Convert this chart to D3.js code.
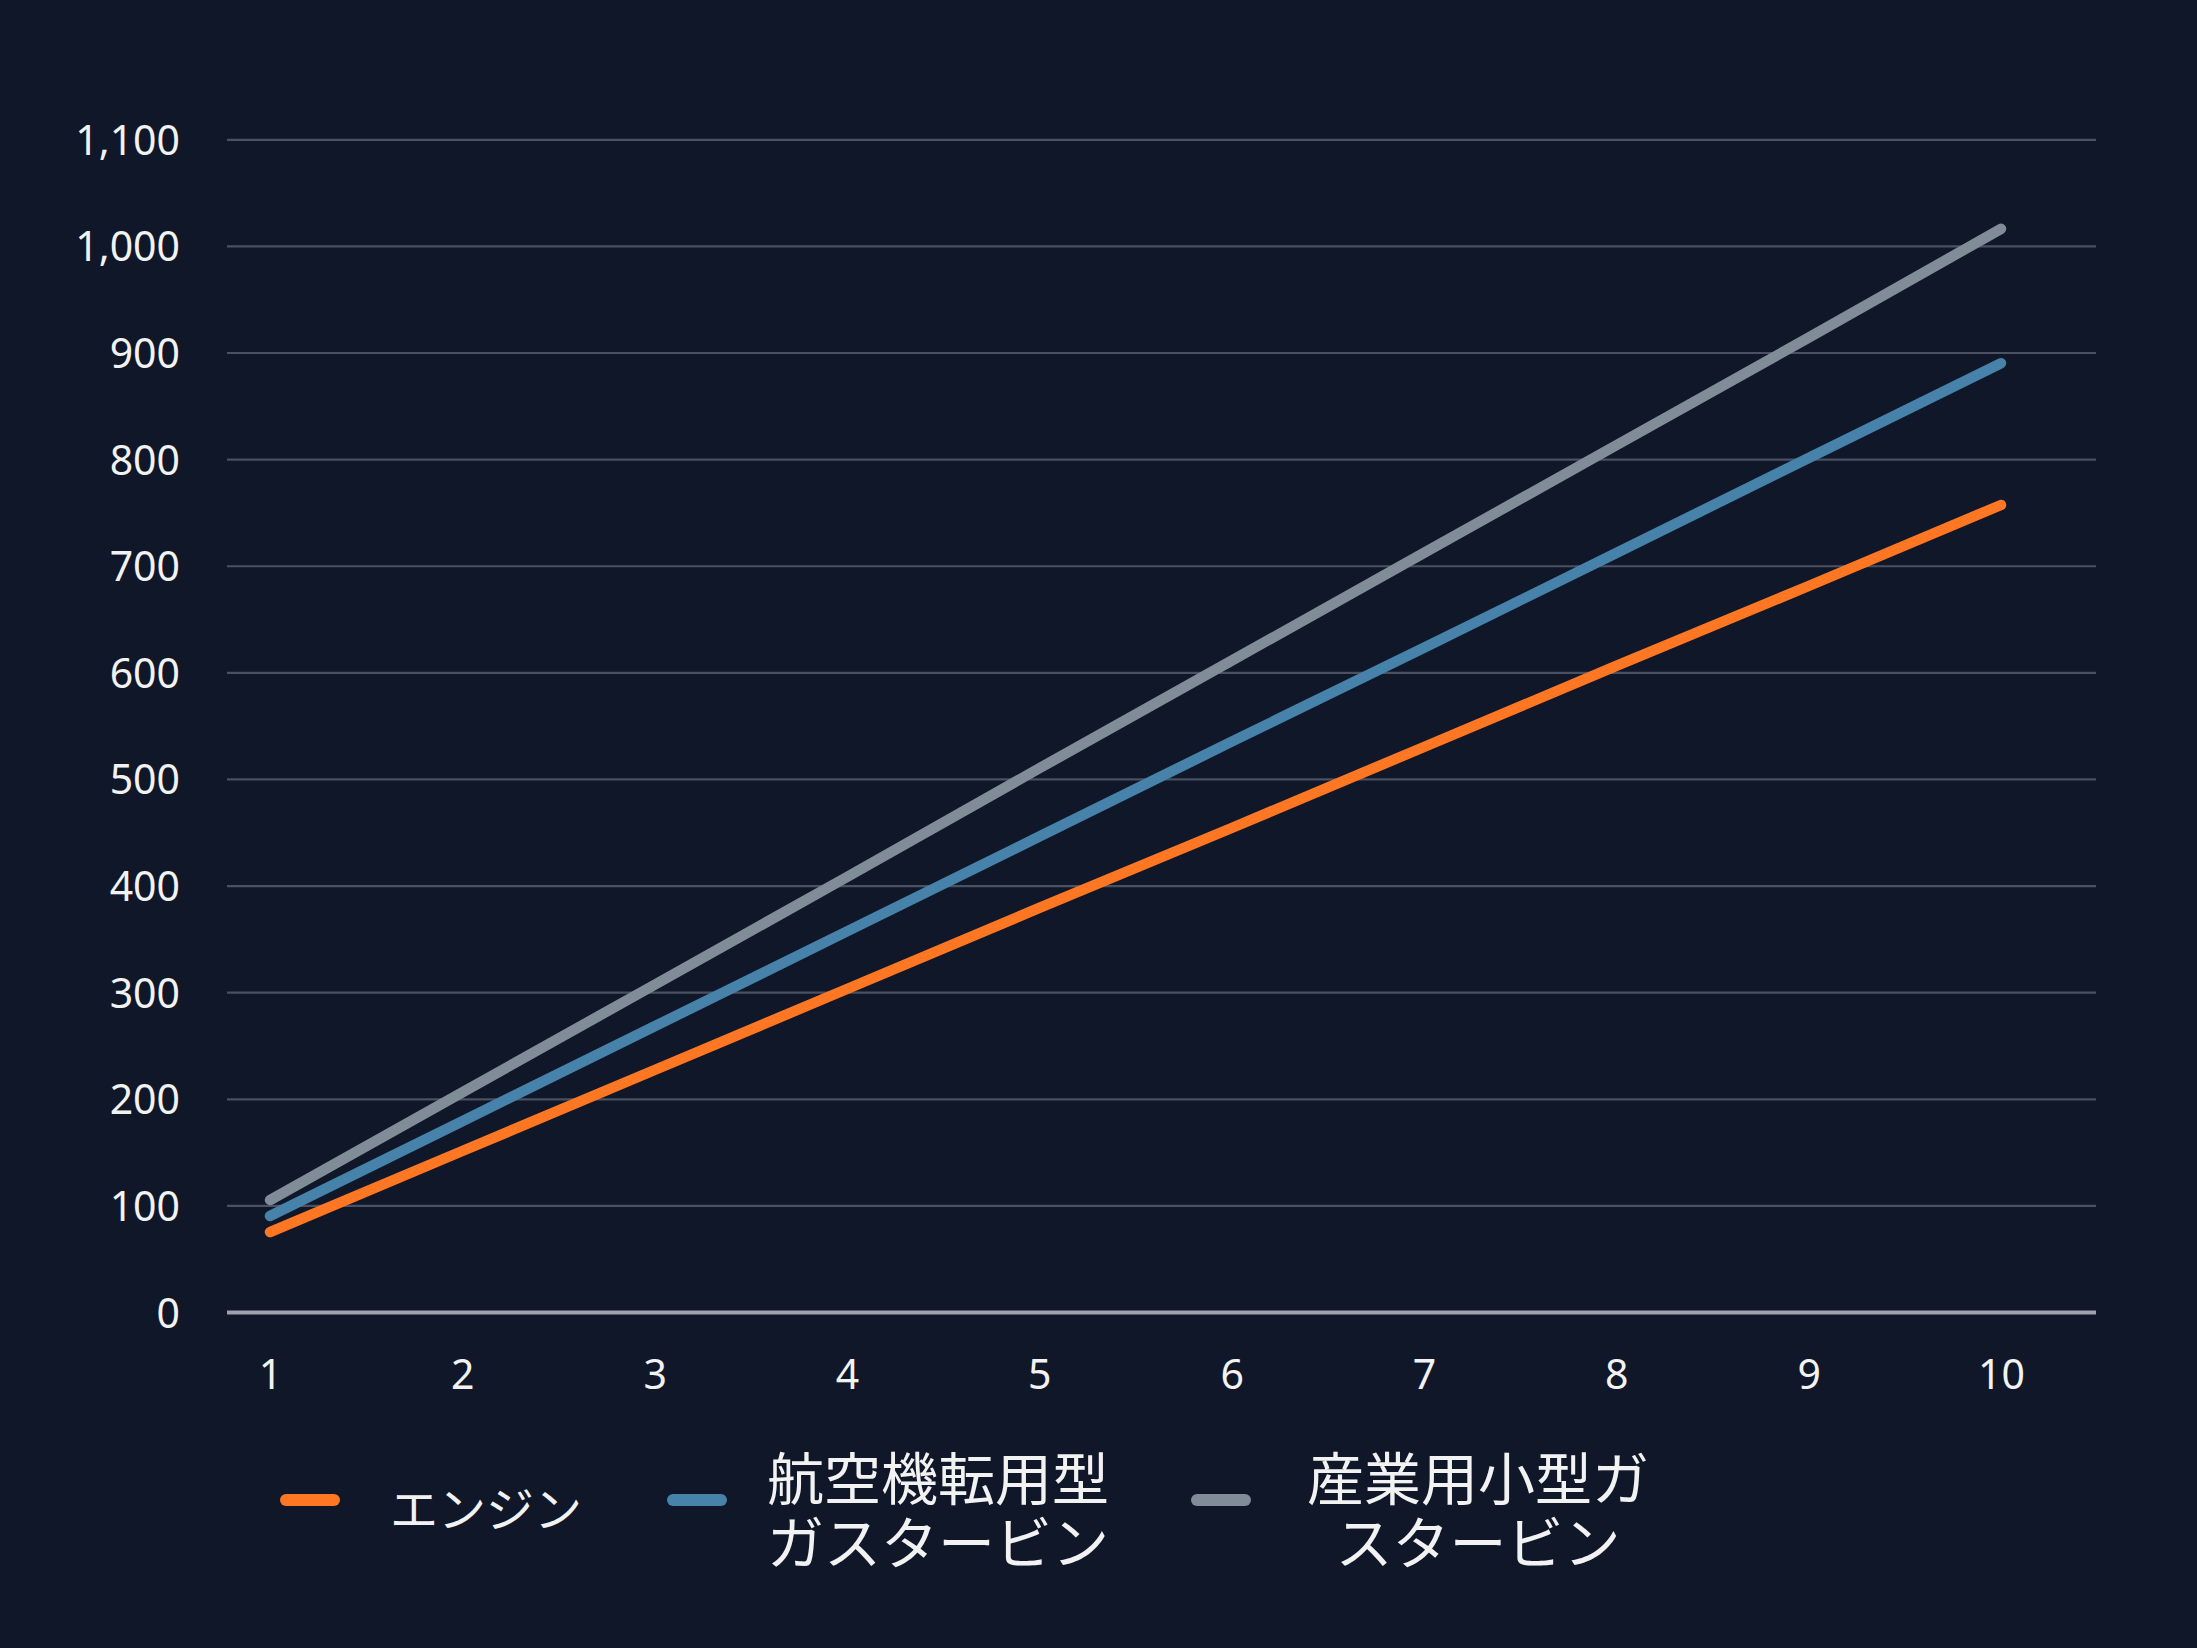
<!DOCTYPE html>
<html><head><meta charset="utf-8">
<script src="https://cdn.jsdelivr.net/npm/d3@7"></script>
<style>
html,body{margin:0;padding:0;background:#0f1729;}
svg{display:block;}
text{font-family:"Noto Sans","Noto Sans CJK JP",sans-serif;fill:#f2f2f2;}
</style></head>
<body>
<svg id="chart" width="2197" height="1648"></svg>
<script>
const categories = [1,2,3,4,5,6,7,8,9,10];
const engine = [75,151,227,303,379,454,530,606,681,757];
const aeroGT = [90,179,268,357,446,535,623,712,801,890];
const industrialGT = [105,206,307,408,510,611,712,813,914,1016];
const yTicks = [0,100,200,300,400,500,600,700,800,900,1000,1100];
const seriesNames = [["エンジン"],["航空機転用型","ガスタービン"],["産業用小型ガ","スタービン"]];
const seriesColors = ["#ff7722","#4682a9","#808c98"];

const series = [
  {name: seriesNames[0], values: engine, color: seriesColors[0]},
  {name: seriesNames[1], values: aeroGT, color: seriesColors[1]},
  {name: seriesNames[2], values: industrialGT, color: seriesColors[2]}
];

const svg = d3.select("#chart");
svg.append("rect").attr("width",2197).attr("height",1648).attr("fill","#0f1729");

const x = d3.scaleLinear().domain([1,10]).range([270,2001]);
const y = d3.scaleLinear().domain([0,1100]).range([1312,139.3]);
const gridLeft = 227, gridRight = 2096;

// gridlines + y labels
const yAxis = d3.axisLeft(y).tickValues(yTicks).tickSize(0).tickFormat(d3.format(","));
const gy = svg.append("g").attr("transform",`translate(${gridLeft},0)`).call(yAxis);
gy.select(".domain").remove();
gy.selectAll(".tick line").remove();
gy.selectAll(".tick").each(function(d){
  d3.select(this).append("line").attr("x1",0).attr("x2",gridRight-gridLeft).attr("y1",0).attr("y2",0)
    .attr("stroke", d===0 ? "#9ea2ad" : "#4a5162").attr("stroke-width", d===0 ? 4 : 2.2);
});
gy.selectAll(".tick text").attr("x",-47).attr("dy",null).attr("y",15)
  .attr("text-anchor","end").attr("font-size",41).attr("fill","#f2f2f2")
  .style("font-family","'Noto Sans',sans-serif");

// x axis labels
const xAxis = d3.axisBottom(x).tickValues(categories).tickSize(0).tickFormat(d3.format("d"));
const gx = svg.append("g").attr("transform","translate(0,1312)").call(xAxis);
gx.select(".domain").remove();
gx.selectAll(".tick line").remove();
gx.selectAll(".tick text").attr("y",77).attr("dy",null).attr("font-size",41).attr("fill","#f2f2f2")
  .style("font-family","'Noto Sans',sans-serif");

// lines
const line = d3.line().x((d,i)=>x(categories[i])).y(d=>y(d));
series.forEach(s=>{
  svg.append("path").datum(s.values).attr("d",line).attr("fill","none")
    .attr("stroke",s.color).attr("stroke-width",10.5).attr("stroke-linecap","round").attr("stroke-linejoin","round");
});

// legend
const legendItems = [
  {sx:280, tx:486, cy:1500, fs:48},
  {sx:667, tx:938, cy:1507, fs:57},
  {sx:1191, tx:1478, cy:1507, fs:57}
];
const lineGap = 64;
series.forEach((s,i)=>{
  const L = legendItems[i];
  svg.append("rect").attr("x",L.sx).attr("y",1500-6).attr("width",60).attr("height",12)
    .attr("rx",6).attr("fill",s.color);
  const n = s.name.length;
  const t = svg.append("text").attr("text-anchor","middle")
    .attr("font-size",L.fs).style("font-family","'Noto Sans CJK JP',sans-serif");
  s.name.forEach((ln,j)=>{
    t.append("tspan").attr("x",L.tx)
      .attr("y",L.cy + (j-(n-1)/2)*lineGap + (n===1?6:0))
      .attr("dominant-baseline","central").text(ln);
  });
});
</script>
</body></html>
